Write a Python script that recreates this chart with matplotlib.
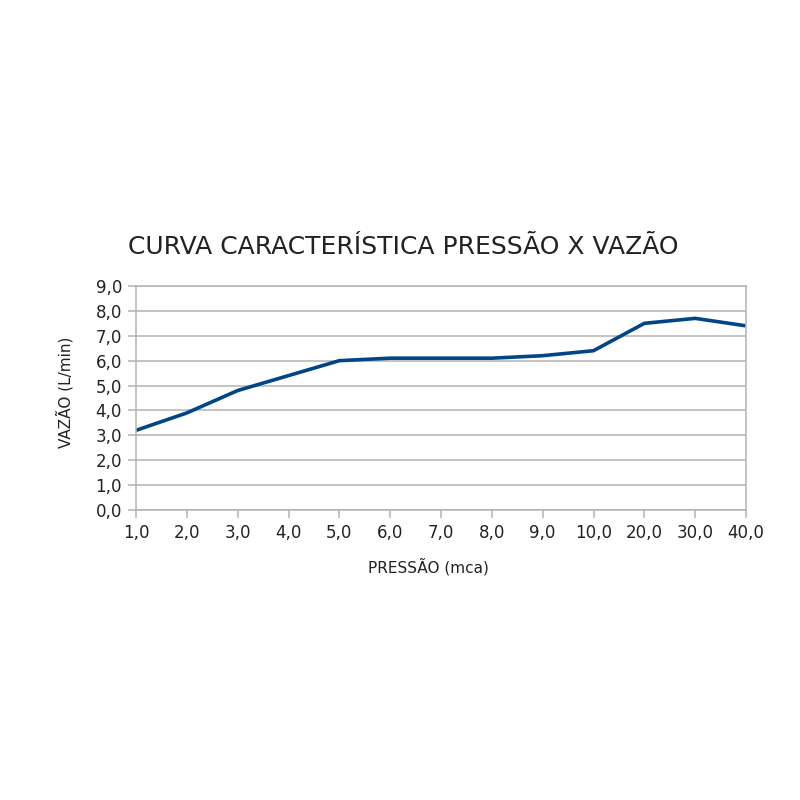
import numpy as np
import matplotlib.pyplot as plt

pressao = ['1,0', '2,0', '3,0', '4,0', '5,0', '6,0', '7,0', '8,0', '9,0',
           '10,0', '20,0', '30,0', '40,0']
vazao = [3.2, 3.9, 4.8, 5.4, 6.0, 6.1, 6.1, 6.1, 6.2, 6.4, 7.5, 7.7, 7.4]
y_ticks = [0, 1, 2, 3, 4, 5, 6, 7, 8, 9]

fig = plt.figure(figsize=(8, 8), dpi=100)
ax = fig.add_axes([0.17, 0.3625, 0.7625, 0.28])

x = np.arange(len(pressao))
ax.plot(x, vazao, color='#004586', linewidth=2.6, solid_capstyle='butt')

ax.set_xlim(0, len(pressao) - 1)
ax.set_ylim(0, 9)
ax.set_xticks(x)
ax.set_xticklabels(pressao)
ax.set_yticks(y_ticks)
ax.set_yticklabels(['%d,0' % v for v in y_ticks])
ax.grid(axis='y', color='#b3b3b3', linewidth=1.1)
ax.set_axisbelow(True)
for s in ax.spines.values():
    s.set_color('#b3b3b3')
    s.set_linewidth(1.1)
ax.tick_params(axis='both', colors='#b3b3b3', labelcolor='#222222',
               labelsize=12, length=6, width=1.1)
ax.tick_params(axis='x', pad=4)
ax.tick_params(axis='y', pad=4)

fig.text(0.504, 0.691, 'CURVA CARACTERÍSTICA PRESSÃO X VAZÃO',
         ha='center', va='center', fontsize=18, color='#222222')
fig.text(0.536, 0.292, 'PRESSÃO (mca)', ha='center', va='center',
         fontsize=11, color='#222222')
fig.text(0.081, 0.51, 'VAZÃO (L/min)', ha='center', va='center',
         rotation=90, fontsize=11, color='#222222')

fig.savefig('out.png', dpi=100)
